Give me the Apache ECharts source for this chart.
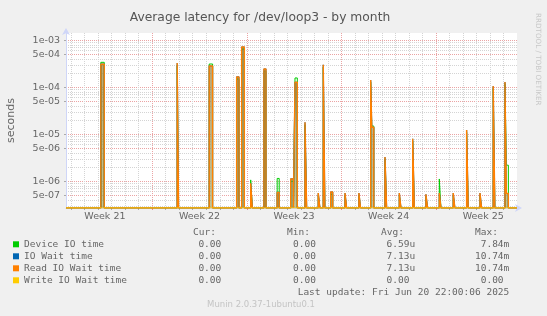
<!DOCTYPE html>
<html>
<head>
<meta charset="utf-8">
<script src="https://cdn.jsdelivr.net/npm/echarts@6/dist/echarts.min.js"></script>
<style>
  html, body { margin: 0; padding: 0; background: #f0f0f0; }
  #chart { width: 547px; height: 316px; }
</style>
</head>
<body>
<div id="chart"></div>
<script>
// x is in days since Mon 19 May 2025 (start of week 21)
var weekLabels = ['Week 21', 'Week 22', 'Week 23', 'Week 24', 'Week 25'];
var weekStarts = [0, 7, 14, 21, 28];

// latency samples (seconds)
var spikeStart = [3.20, 8.85, 11.22, 13.25, 13.62, 14.29, 15.27, 16.25, 17.25, 17.57, 18.31, 19.29, 19.66, 20.21, 21.27, 22.30, 23.17, 23.25, 24.23, 25.29, 26.28, 27.26, 28.25, 29.28, 30.27, 31.26, 32.24, 33.11, 33.21];
var spikeLen = [0.25, 0.10, 0.25, 0.17, 0.20, 0.12, 0.15, 0.15, 0.20, 0.17, 0.12, 0.12, 0.12, 0.15, 0.12, 0.12, 0.08, 0.15, 0.12, 0.12, 0.12, 0.12, 0.12, 0.12, 0.12, 0.12, 0.12, 0.10, 0.15];
var deviceIO = [3.4e-4, 2.9e-4, 3.13e-4, 1.5e-4, 6.5e-4, 1.07e-6, 2.2e-4, 1.15e-6, 1.0e-6, 1.58e-4, 1.6e-5, 5.0e-7, 2.7e-4, 5.3e-7, 5.0e-7, 5.0e-7, 1.3e-4, 1.5e-5, 3.0e-6, 5.0e-7, 7.2e-6, 4.8e-7, 1.12e-6, 5.0e-7, 1.1e-5, 5.0e-7, 9.6e-5, 1.2e-4, 2.2e-6];
var ioWait = [3.1e-4, 3.3e-4, 2.84e-4, 1.66e-4, 7.2e-4, 9.1e-7, 2.45e-4, 5.8e-7, 1.12e-6, 1.28e-4, 1.8e-5, 5.6e-7, 3.0e-4, 5.9e-7, 5.6e-7, 5.6e-7, 1.43e-4, 1.41e-5, 3.3e-6, 5.6e-7, 8.05e-6, 5.3e-7, 5.6e-7, 5.6e-7, 1.23e-5, 5.6e-7, 1.07e-4, 1.3e-4, 5.5e-7];
var readWait = ioWait.slice();
var writeWait = spikeStart.map(function() { return 0; });

var yTicks = [1e-3, 5e-4, 1e-4, 5e-5, 1e-5, 5e-6, 1e-6, 5e-7];

var statHeads = ['Cur:', 'Min:', 'Avg:', 'Max:'];
var statRows = [
  ['0.00 ', '0.00 ', '6.59u', '7.84m'],
  ['0.00 ', '0.00 ', '7.13u', '10.74m'],
  ['0.00 ', '0.00 ', '7.13u', '10.74m'],
  ['0.00 ', '0.00 ', '0.00 ', '0.00 ']
];
var seriesNames = ['Device IO time', 'IO Wait time', 'Read IO Wait time', 'Write IO Wait time'];
var seriesColors = ['#00cc00', '#0066b3', '#ff8000', '#ffcc00'];

(function() {
  var xMin = 0.62, xMax = 34.0;
  var yMin = Math.log10(2.7e-7), yMax = Math.log10(1.43e-3);
  var sans = 'DejaVu Sans', mono = 'DejaVu Sans Mono';
  var font = '#666';

  function toLog(v) { return v > 0 ? Math.log10(v) : yMin; }

  function buildLine(values) {
    var pts = [[xMin, yMin]];
    for (var i = 0; i < spikeStart.length; i++) {
      var end = spikeStart[i] + spikeLen[i];
      pts.push([spikeStart[i], toLog(values[i])]);
      if (i === spikeStart.length - 1 || spikeStart[i + 1] > end + 1e-6) pts.push([end, yMin]);
    }
    pts.push([xMax, yMin]);
    return pts;
  }

  var dayLines = [], weekLines = [];
  for (var d = 1; d < xMax; d++) {
    if (d % 7 === 0) weekLines.push(d); else dayLines.push(d);
  }
  var weekCenters = weekStarts.map(function(w) { return w + 3.5; });

  var majorY = yTicks.map(function(v) { return Math.log10(v); });
  var minorY = [];
  for (var e = -7; e <= -3; e++) {
    [2, 3, 4, 6, 7, 8, 9].forEach(function(m) {
      var l = Math.log10(m) + e;
      if (l > yMin && l < yMax) minorY.push(l);
    });
  }

  function fmtExp(val) {
    var s = Math.pow(10, val).toExponential(0);
    return s.replace(/e([+-])(\d)$/, 'e$10$2');
  }

  var dataSets = [deviceIO, ioWait, readWait, writeWait];
  var widths = [1, 1.2, 1.4, 1.2];
  var series = seriesNames.map(function(name, i) {
    var s = {
      name: name,
      type: 'line',
      step: 'end',
      data: buildLine(dataSets[i]),
      symbol: 'none',
      xAxisIndex: 0,
      yAxisIndex: 0,
      lineStyle: { color: seriesColors[i], width: widths[i] },
      itemStyle: { color: seriesColors[i] }
    };
    if (name === 'Read IO Wait time') {
      s.areaStyle = {
        origin: 'start',
        color: new echarts.graphic.LinearGradient(0, 0, 0, 1, [
          { offset: 0, color: '#9c7c34' },
          { offset: 1, color: '#a8a868' }
        ])
      };
    }
    return s;
  });

  var graphic = [];
  var heads = [193, 287, 381, 475];
  var rights = [227, 321.7, 415.2, 509.3];
  statHeads.forEach(function(h, c) {
    graphic.push({ type: 'text', x: heads[c], y: 232.3, style: { text: h, font: '9.5px "' + mono + '"', fill: font, align: 'left', verticalAlign: 'middle', textAlign: 'left', textVerticalAlign: 'middle' } });
  });
  statRows.forEach(function(row, r) {
    row.forEach(function(t, c) {
      graphic.push({ type: 'text', x: rights[c], y: 244.3 + r * 12, style: { text: t, font: '9.5px "' + mono + '"', fill: font, align: 'right', verticalAlign: 'middle', textAlign: 'right', textVerticalAlign: 'middle' } });
    });
  });
  graphic.push({ type: 'text', x: 509.3, y: 292.7, style: { text: 'Last update: Fri Jun 20 22:00:06 2025', font: '9.5px "' + mono + '"', fill: font, align: 'right', verticalAlign: 'middle', textAlign: 'right', textVerticalAlign: 'middle' } });
  graphic.push({ type: 'text', x: 261, y: 305, style: { text: 'Munin 2.0.37-1ubuntu0.1', font: '8.5px "' + sans + '"', fill: '#c4c4c4', align: 'center', verticalAlign: 'middle', textAlign: 'center', textVerticalAlign: 'middle' } });
  graphic.push({ type: 'text', x: 537.5, y: 13, rotation: -Math.PI / 2, style: { text: 'RRDTOOL / TOBI OETIKER', font: '7.2px "' + sans + '"', fill: '#c8c8c8', align: 'left', verticalAlign: 'middle', textAlign: 'left', textVerticalAlign: 'middle' } });

  var chart = echarts.init(document.getElementById('chart'), null, { renderer: 'canvas' });
  chart.setOption({
    animation: false,
    backgroundColor: '#f0f0f0',
    title: {
      text: 'Average latency for /dev/loop3 - by month',
      left: 255,
      top: 7,
      textAlign: 'center',
      textStyle: { fontFamily: sans, fontSize: 12.3, fontWeight: 'normal', color: '#555' }
    },
    legend: {
      orient: 'vertical',
      left: 13,
      top: 238.3,
      padding: 0,
      itemWidth: 6,
      itemHeight: 6,
      itemGap: 0,
      icon: 'rect',
      selectedMode: false,
      textStyle: { fontFamily: mono, fontSize: 9.5, color: font, lineHeight: 12 },
      data: seriesNames
    },
    grid: { left: 66, right: 30, top: 33, bottom: 108, outerBoundsMode: 'none', backgroundColor: '#ffffff', show: true, borderWidth: 0 },
    xAxis: [
      {
        type: 'value',
        min: xMin,
        max: xMax,
        axisLine: { lineStyle: { color: '#cfd6f8' }, symbol: ['none', 'arrow'], symbolSize: [6, 7], symbolOffset: [0, 5] },
        axisTick: { show: true, customValues: dayLines, length: 2, lineStyle: { color: '#aaa' } },
        splitLine: { show: true, lineStyle: { color: '#d4d4d4', type: [1, 1] } },
        axisLabel: {
          customValues: weekCenters,
          formatter: function(v) { return weekLabels[Math.floor(v / 7)]; },
          color: font,
          fontFamily: sans,
          fontSize: 9.5,
          margin: 4
        }
      },
      {
        type: 'value',
        min: xMin,
        max: xMax,
        position: 'bottom',
        axisLine: { show: false },
        axisTick: { show: true, customValues: weekLines, length: 2, lineStyle: { color: '#e88' } },
        splitLine: { show: true, lineStyle: { color: '#eba4a4', type: [1, 1] } },
        axisLabel: { show: false }
      }
    ],
    yAxis: [
      {
        type: 'value',
        min: yMin,
        max: yMax,
        name: 'seconds',
        nameLocation: 'middle',
        nameGap: 49,
        nameTextStyle: { color: font, fontFamily: sans, fontSize: 11 },
        axisLine: { show: true, lineStyle: { color: '#cfd6f8' }, symbol: ['none', 'arrow'], symbolSize: [6, 7], symbolOffset: [0, 5] },
        axisTick: { show: true, customValues: majorY, length: 2, lineStyle: { color: '#aaa' } },
        axisLabel: { customValues: majorY, formatter: fmtExp, color: font, fontFamily: sans, fontSize: 9.5, margin: 6 },
        splitLine: { show: true, lineStyle: { color: '#eba4a4', type: [1, 1] } }
      },
      {
        type: 'value',
        min: yMin,
        max: yMax,
        position: 'left',
        axisLine: { show: false },
        axisTick: { show: false, customValues: minorY },
        axisLabel: { show: false },
        splitLine: { show: true, lineStyle: { color: '#d4d4d4', type: [1, 1] } }
      }
    ],
    series: series,
    graphic: graphic
  });
})();
</script>
</body>
</html>
